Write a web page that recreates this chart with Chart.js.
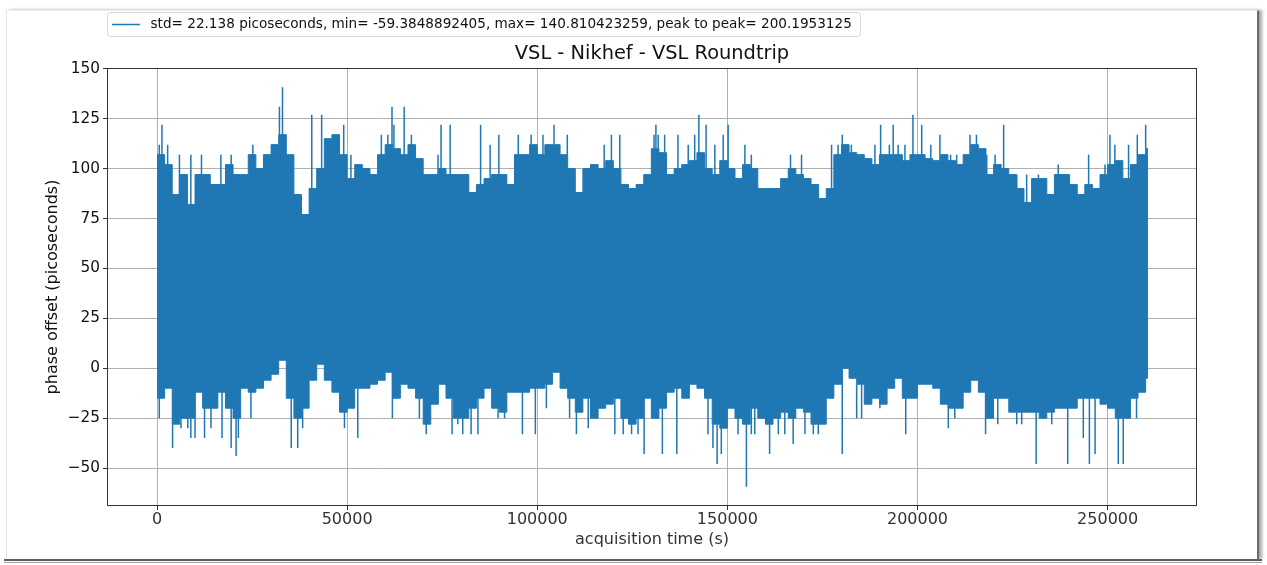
<!DOCTYPE html>
<html>
<head>
<meta charset="utf-8">
<script src="https://cdn.jsdelivr.net/npm/chart.js@4.4.1/dist/chart.umd.min.js"></script>
<style>
  html,body{margin:0;padding:0;background:#fff;}
  body{width:1267px;height:565px;overflow:hidden;position:relative;}
  #frame{position:absolute;left:6px;top:10px;width:1250px;height:548px;border-left:1px solid #e4e4e4;border-top:1px solid #ededed;border-right:2px solid #6a6a6a;box-shadow:3px 0 3px rgba(0,0,0,0.35);}
  #b1{position:absolute;left:4px;top:559px;width:1258px;height:2px;background:#5e5e5e;}
  #b2{position:absolute;left:4px;top:562px;width:1258px;height:1px;background:#a0a0a0;}
  #c{position:absolute;left:0;top:0;}
</style>
</head>
<body>
<div id="frame"></div>
<div id="b1"></div>
<div id="b2"></div>
<canvas id="c" width="1267" height="565"></canvas>
<script>
// ---- data ----
const titleText = 'VSL - Nikhef - VSL Roundtrip';
const legendText = 'std= 22.138 picoseconds, min= -59.3848892405, max= 140.810423259, peak to peak= 200.1953125';
const xTitle = 'acquisition time (s)';
const yTitle = 'phase offset (picoseconds)';

const xTicks = [0, 50000, 100000, 150000, 200000, 250000];
const yTicks = [-50, -25, 0, 25, 50, 75, 100, 125, 150];

// sample times (kiloseconds) of the envelope
const sampleKs = [0,2,4,6,8,10,12,14,16,18,20,22,24,26,28,30,32,34,36,38,40,42,44,46,48,50,52,54,56,58,
  60,62,64,66,68,70,72,74,76,78,80,82,84,86,88,90,92,94,96,98,100,102,104,106,108,110,112,114,116,118,
  120,122,124,126,128,130,132,134,136,138,140,142,144,146,148,150,152,154,156,158,160,162,164,166,168,170,
  172,174,176,178,180,182,184,186,188,190,192,194,196,198,200,202,204,206,208,210,212,214,216,218,220,
  222,224,226,228,230,232,234,236,238,240,242,244,246,248,250,252,254,256,258,260];
const dataEnd = 260600;

// upper envelope of the phase offset (ps)
const upperEnv = [107,102,87,97,82,97,97,92,92,102,97,97,107,100,107,112,117,107,87,77,90,100,115,117,107,95,102,100,97,107,
  112,110,107,112,105,97,97,100,97,97,97,88,92,95,97,97,92,107,107,112,107,112,112,107,100,88,100,102,100,104,
  100,92,90,92,97,110,108,97,100,102,104,108,100,97,104,100,95,102,100,90,90,90,95,100,97,95,
  92,85,90,107,112,108,107,105,102,107,107,107,104,107,107,105,104,107,104,102,107,112,110,97,102,
  100,97,90,83,95,95,87,97,97,92,87,92,90,97,102,104,95,102,107,110];

// lower envelope of the phase offset (ps)
const lowerEnv = [-15,-10,-28,-25,-25,-12,-20,-20,-12,-20,-25,-10,-12,-10,-6,-3,4,-15,-25,-20,-6,2,-6,-12,-22,-20,-10,-10,-8,-6,
  -2,-15,-8,-10,-15,-28,-18,-8,-15,-25,-25,-20,-15,-10,-20,-22,-12,-12,-12,-10,-10,-8,-2,-10,-15,-22,-15,-25,-20,-18,
  -15,-25,-28,-25,-15,-25,-20,-12,-10,-15,-8,-10,-15,-28,-30,-20,-25,-28,-20,-25,-28,-25,-22,-25,-20,-22,
  -28,-28,-15,-8,0,-5,-8,-18,-15,-18,-10,-5,-15,-15,-8,-8,-10,-18,-20,-20,-12,-6,-12,-25,-15,
  -15,-22,-22,-22,-22,-25,-22,-20,-20,-20,-15,-15,-15,-18,-20,-25,-25,-15,-12,-5];

// isolated spikes: [time (s), value (ps)]
const topSpikes = [[600,112],[1300,122],[2800,112],[5900,107],[8900,107],[11700,107],[16800,107],[19500,107],[25200,112],
  [32200,131],[33000,140.8],[40700,127],[43300,127],[49100,122],[51000,107],[59000,117],[60700,117],[61800,131],[62300,122],
  [65000,131],[66900,117],[73900,107],[74700,122],[77100,122],[85100,122],[87600,112],[89900,117],[95000,117],[98400,117],
  [101500,117],[104400,122],[107900,117],[117600,112],[119500,117],[121700,117],[130700,117],[131200,122],[131800,117],
  [133500,117],[137000,117],[139700,112],[141400,117],[142500,127],[144400,122],[146700,112],[148900,117],[150200,122],
  [154600,112],[156300,107],[166600,107],[169500,107],[177400,112],[179100,112],[180200,117],[182600,112],[188800,112],
  [190300,122],[192600,112],[193600,122],[194900,112],[196700,112],[198800,127],[201100,122],[203500,112],[205900,117],
  [208700,107],[210300,107],[213800,117],[215500,117],[218200,107],[220400,107],[222650,122],[226100,97],[228700,97],
  [231800,97],[237000,102],[239700,97],[245000,107],[249300,102],[250600,117],[251900,112],[255500,112],[257800,117],[260000,122]];
const lowSpikes = [[600,-25],[4100,-40],[6300,-30],[8100,-30],[8900,-35],[10000,-35],[12500,-35],[14200,-30],[17100,-35],
  [19500,-40],[20800,-44],[21400,-35],[24700,-25],[35300,-40],[37000,-40],[38300,-30],[49300,-30],[52800,-35],[61900,-25],
  [69000,-25],[70800,-33],[77600,-33],[79100,-28],[80400,-33],[82600,-33],[84400,-33],[89700,-25],[91400,-25],[96100,-33],
  [99500,-33],[102400,-20],[108500,-25],[110300,-33],[113400,-30],[120400,-33],[122600,-33],[124800,-33],[126500,-33],
  [128100,-43],[132900,-43],[136700,-43],[144900,-33],[146200,-40],[147300,-48],[148400,-43],[152800,-33],[155000,-59.4],
  [156300,-33],[157200,-33],[161100,-43],[163400,-33],[165100,-33],[167300,-38],[170400,-33],[172600,-33],[173900,-33],
  [180200,-43],[184000,-25],[185300,-25],[190100,-20],[196900,-33],[208100,-30],[209800,-25],[217900,-33],[221100,-28],
  [226100,-28],[227400,-28],[231200,-48],[235300,-28],[239500,-48],[243600,-35],[245200,-48],[246700,-43],[252800,-48],
  [254100,-48],[257600,-25]];

const xRange = [-13150, 273500];
const yRange = [-69, 150.4];

// ---- build datasets ----
const blue = '#1f77b4';
const sampleT = sampleKs.map(k => k * 1000);
function envPoints(vals) {
  const pts = sampleT.map((t, i) => ({x: t, y: vals[i]}));
  pts.push({x: dataEnd, y: vals[vals.length - 1]});
  return pts;
}
function envAt(vals, t) {
  let idx = 0;
  for (let i = 0; i < sampleT.length; i++) if (sampleT[i] <= t) idx = i;
  return vals[idx];
}
function spikePoints(list, env) {
  const pts = [];
  list.forEach(([t, v]) => {
    pts.push({x: t, y: envAt(env, t)});
    pts.push({x: t, y: v});
    pts.push({x: t, y: null});
  });
  return pts;
}

const FONT = "'DejaVu Sans', 'Liberation Sans', sans-serif";
const fmt = v => (v < 0 ? '\u2212' + Math.abs(v) : String(v));

const decorPlugin = {
  id: 'decor',
  afterDraw(chart) {
    const {ctx, chartArea: a} = chart;
    ctx.save();
    ctx.strokeStyle = '#333';
    ctx.lineWidth = 1;
    ctx.strokeRect(Math.round(a.left) + 0.5, Math.round(a.top) + 0.5, Math.round(a.right - a.left) - 1, Math.round(a.bottom - a.top) - 1);
    ctx.fillStyle = '#111';
    ctx.font = '19.4px ' + FONT;
    ctx.textAlign = 'center';
    ctx.textBaseline = 'middle';
    ctx.fillText(titleText, (a.left + a.right) / 2, 54);
    const bx = 107.5, by = 12.5, bw = 753, bh = 24, r = 3;
    ctx.beginPath();
    ctx.moveTo(bx + r, by);
    ctx.lineTo(bx + bw - r, by); ctx.arcTo(bx + bw, by, bx + bw, by + r, r);
    ctx.lineTo(bx + bw, by + bh - r); ctx.arcTo(bx + bw, by + bh, bx + bw - r, by + bh, r);
    ctx.lineTo(bx + r, by + bh); ctx.arcTo(bx, by + bh, bx, by + bh - r, r);
    ctx.lineTo(bx, by + r); ctx.arcTo(bx, by, bx + r, by, r);
    ctx.closePath();
    ctx.fillStyle = '#fff';
    ctx.fill();
    ctx.strokeStyle = '#d6d6d6';
    ctx.stroke();
    ctx.strokeStyle = blue;
    ctx.lineWidth = 1.5;
    ctx.beginPath();
    ctx.moveTo(112, 24.5); ctx.lineTo(140, 24.5);
    ctx.stroke();
    ctx.fillStyle = '#111';
    ctx.font = '13.6px ' + FONT;
    ctx.textAlign = 'left';
    ctx.fillText(legendText, 150.5, 24.5);
    ctx.restore();
  }
};

new Chart(document.getElementById('c'), {
  type: 'line',
  data: {
    datasets: [
      {data: envPoints(upperEnv), stepped: true, borderColor: blue, borderWidth: 1, backgroundColor: blue, fill: '+1', pointRadius: 0},
      {data: envPoints(lowerEnv), stepped: true, borderColor: blue, borderWidth: 1, backgroundColor: blue, fill: false, pointRadius: 0},
      {data: spikePoints(topSpikes, upperEnv), borderColor: blue, borderWidth: 1.5, fill: false, pointRadius: 0, spanGaps: false},
      {data: spikePoints(lowSpikes, lowerEnv), borderColor: blue, borderWidth: 1.5, fill: false, pointRadius: 0, spanGaps: false}
    ]
  },
  options: {
    responsive: false,
    animation: false,
    devicePixelRatio: 1,
    layout: {padding: {left: 0, top: 68, right: 70, bottom: 16}},
    plugins: {legend: {display: false}, title: {display: false}, tooltip: {enabled: false}},
    elements: {line: {tension: 0}},
    scales: {
      x: {
        type: 'linear', min: xRange[0], max: xRange[1],
        afterBuildTicks: s => { s.ticks = xTicks.map(v => ({value: v})); },
        afterFit: s => { s.height = 43; },
        grid: {color: '#b0b0b0', lineWidth: 1, drawTicks: true, tickLength: 4, tickColor: '#333'},
        border: {display: false},
        ticks: {font: {family: FONT, size: 16}, color: '#333', padding: 0, maxRotation: 0, autoSkip: false, callback: v => fmt(v)},
        title: {display: true, text: xTitle, font: {family: FONT, size: 16}, color: '#333', padding: {top: 0, bottom: 0}}
      },
      y: {
        type: 'linear', min: yRange[0], max: yRange[1],
        afterBuildTicks: s => { s.ticks = yTicks.map(v => ({value: v})); },
        afterFit: s => { s.width = 107; },
        grid: {color: '#b0b0b0', lineWidth: 1, drawTicks: true, tickLength: 4, tickColor: '#333'},
        border: {display: false},
        ticks: {font: {family: FONT, size: 15.3}, color: '#111', padding: 3, autoSkip: false, callback: v => fmt(v)},
        title: {display: true, text: yTitle, font: {family: FONT, size: 16}, color: '#111', padding: {top: 43, bottom: 0}}
      }
    }
  },
  plugins: [decorPlugin]
});
</script>
</body>
</html>
